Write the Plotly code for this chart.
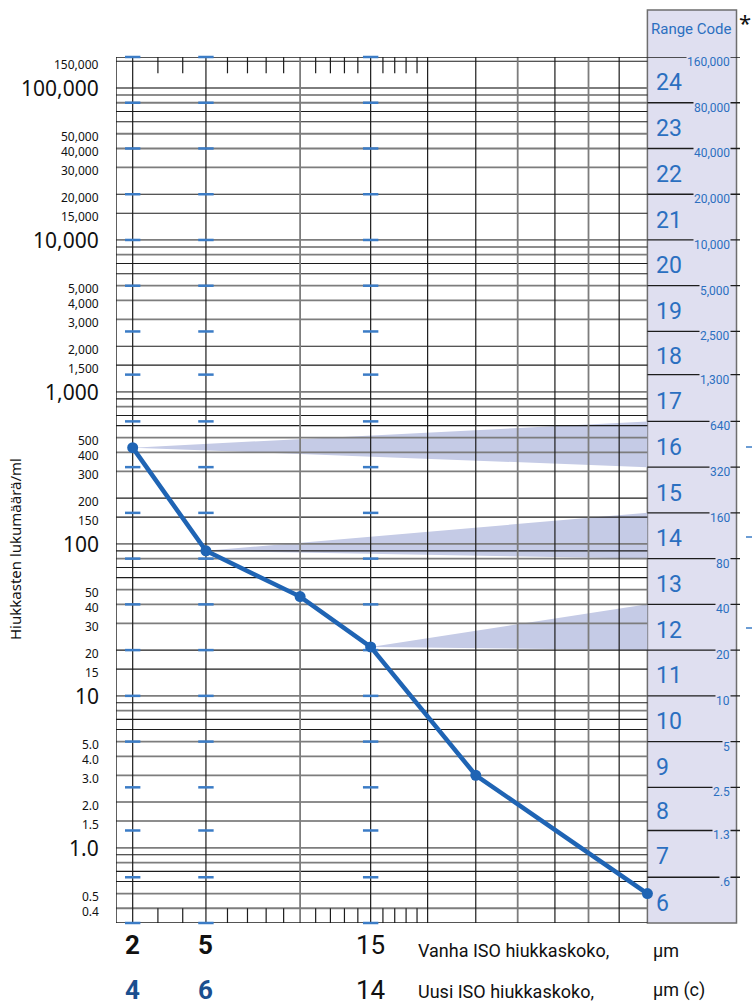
import math
import plotly.graph_objects as go

# Measured particle counts per ml at each particle size (µm)
sizes = [2, 5, 10, 15, 25, 50]
counts = [430, 90, 45, 21, 3.0, 0.5]

# Reporting sizes: old ISO (µm) and new ISO (µm(c))
old_iso_sizes = [2, 5, 15]
new_iso_sizes = [4, 6, 14]

# ISO 4406 range-code band limits (counts/ml) and their printed labels
range_bounds = [0.32, 0.64, 1.3, 2.5, 5, 10, 20, 40, 80, 160, 320, 640,
                1300, 2500, 5000, 10000, 20000, 40000, 80000, 160000]
range_bound_labels = ["", ".6", "1.3", "2.5", "5", "10", "20", "40", "80", "160",
                      "320", "640", "1,300", "2,500", "5,000", "10,000", "20,000",
                      "40,000", "80,000", "160,000"]
range_codes = [6, 7, 8, 9, 10, 11, 12, 13, 14, 15, 16, 17, 18, 19, 20, 21, 22, 23, 24]

# Shaded wedges: index of measured point -> band it falls in (low, high)
wedge_points = [0, 1, 3]
wedge_bands = [(320, 640), (80, 160), (20, 40)]

# Count-axis labels
count_ticks = [150000, 100000, 50000, 40000, 30000, 20000, 15000, 10000,
               5000, 4000, 3000, 2000, 1500, 1000, 500, 400, 300, 200, 150, 100,
               50, 40, 30, 20, 15, 10, 5, 4, 3, 2, 1.5, 1, 0.5, 0.4]
count_tick_text = ["150,000", "100,000", "50,000", "40,000", "30,000", "20,000", "15,000", "10,000",
                   "5,000", "4,000", "3,000", "2,000", "1,500", "1,000", "500", "400", "300", "200",
                   "150", "100", "50", "40", "30", "20", "15", "10", "5.0", "4.0", "3.0", "2.0",
                   "1.5", "1.0", "0.5", "0.4"]
major_counts = [100000, 10000, 1000, 100, 10, 1]

# Grid: per-decade multipliers and decades shown
grid_mults_gray = [1, 3, 4, 5, 8]
grid_mults_black = [1.5, 2, 6, 7, 9]
grid_decades = [0.1, 1, 10, 100, 1000, 10000, 100000]
grid_min, grid_max = 0.4, 150000

size_lines_black = [2, 5, 15, 20, 25, 35, 45]
size_lines_gray = [10, 30, 40]
size_minor_ticks = [3, 4, 6, 7, 8, 9, 11, 12, 13, 14, 16, 17, 18, 19]
size_max = 50

# Colours and fonts
BLUE = "#1f64b4"
TEXT_BLUE = "#2b6fc0"
DASH_BLUE = "#3b7cc6"
PANEL = "#dfdff0"
WEDGE = "#c5cbe6"
NARROW = "Roboto, Lato, Liberation Sans, sans-serif"
SANS = "Noto Sans, Open Sans, DejaVu Sans, sans-serif"

# Page geometry
W, H = 752, 1004
ML, MR, MT, MB = 116, 12, 57, 81
PLOT_W = W - ML - MR
PLOT_H = H - MT - MB
PX_PER_U = 184.1


def u(d):
    """Horizontal position for particle size d (log-squared scale)."""
    return math.log10(d) ** 2


def paper_y(px):
    return (H - MB - px) / PLOT_H


def paper_x(px):
    return (px - ML) / PLOT_W


U_MAX = PLOT_W / PX_PER_U
U_EDGE = u(size_max)
U_PANEL_RIGHT = (736.5 - ML) / PX_PER_U

fig = go.Figure()

# Wedges from a measured point out to its range-code band
for idx, (lo, hi) in zip(wedge_points, wedge_bands):
    fig.add_trace(go.Scatter(
        x=[u(sizes[idx]), U_EDGE, U_EDGE, u(sizes[idx])],
        y=[counts[idx], hi, lo, counts[idx]],
        mode="lines", fill="toself", fillcolor=WEDGE,
        line=dict(width=0), hoverinfo="skip", showlegend=False))


def hlines(values, x0, x1):
    xs, ys = [], []
    for v in values:
        xs += [x0, x1, None]
        ys += [v, v, None]
    return xs, ys


def vlines(sz, y0, y1):
    xs, ys = [], []
    for s in sz:
        xs += [u(s), u(s), None]
        ys += [y0, y1, None]
    return xs, ys


def grid_values(mults):
    out = []
    for d in grid_decades:
        for m in mults:
            v = round(m * d, 6)
            if grid_min <= v <= grid_max:
                out.append(v)
    return out


# Horizontal count grid
for mults, col, w in [(grid_mults_gray, "#7d7d7d", 1.8), (grid_mults_black, "#1c1c1c", 1.1)]:
    xs, ys = hlines(grid_values(mults), 0, U_EDGE)
    fig.add_trace(go.Scatter(x=xs, y=ys, mode="lines", line=dict(color=col, width=w),
                             hoverinfo="skip", showlegend=False))

# Vertical size lines
for sz, col, w in [(size_lines_gray, "#7d7d7d", 1.8), (size_lines_black, "#1c1c1c", 1.2)]:
    xs, ys = vlines(sz, range_bounds[0], range_bounds[-1])
    fig.add_trace(go.Scatter(x=xs, y=ys, mode="lines", line=dict(color=col, width=w),
                             hoverinfo="skip", showlegend=False))

# Short size ticks along top and bottom edges
xs_t, ys_t = vlines(size_minor_ticks, 125000, range_bounds[-1])
xs_b, ys_b = vlines(size_minor_ticks, range_bounds[0], grid_min)
fig.add_trace(go.Scatter(x=xs_t + xs_b, y=ys_t + ys_b, mode="lines",
                         line=dict(color="#1c1c1c", width=1.2),
                         hoverinfo="skip", showlegend=False))

# Frame of the main grid (left edge, top and bottom)
fig.add_trace(go.Scatter(
    x=[0, 0, None, 0, U_EDGE, None, 0, U_EDGE],
    y=[range_bounds[0], range_bounds[-1], None, range_bounds[-1], range_bounds[-1], None,
       range_bounds[0], range_bounds[0]],
    mode="lines", line=dict(color="#1c1c1c", width=1.4), hoverinfo="skip", showlegend=False))

# Range-code band limits across the side panel
xs, ys = hlines(range_bounds[1:], U_EDGE, U_MAX)
fig.add_trace(go.Scatter(x=xs, y=ys, mode="lines", line=dict(color="#1c1c1c", width=1.3),
                         hoverinfo="skip", showlegend=False))

# Blue band-limit marks on the ISO reporting sizes
bx, by = [], []
for s in old_iso_sizes:
    for b in range_bounds:
        bx.append(u(s))
        by.append(b)
fig.add_trace(go.Scatter(x=bx, y=by, mode="markers", cliponaxis=False,
                         marker=dict(symbol="line-ew", size=11,
                                     line=dict(color=DASH_BLUE, width=2.5)),
                         hoverinfo="skip", showlegend=False))

# Measured distribution
fig.add_trace(go.Scatter(x=[u(s) for s in sizes], y=counts, mode="lines+markers",
                         cliponaxis=False,
                         line=dict(color=BLUE, width=4.5),
                         marker=dict(color=BLUE, size=11),
                         showlegend=False))

shapes = [
    # Range-code side panel
    dict(type="rect", xref="x", yref="paper", x0=U_EDGE, x1=U_PANEL_RIGHT,
         y0=0, y1=paper_y(10), fillcolor=PANEL, line=dict(color="#6e6e6e", width=1.5),
         layer="below"),
]
# Small blue marks right of the panel
for py in [447, 537, 628]:
    shapes.append(dict(type="line", xref="paper", yref="paper",
                       x0=paper_x(746), x1=paper_x(753), y0=paper_y(py), y1=paper_y(py),
                       line=dict(color=DASH_BLUE, width=1.5)))

annotations = []

# Count-axis labels
for v, t in zip(count_ticks, count_tick_text):
    big = v in major_counts
    annotations.append(dict(
        x=0, xref="paper", xshift=-15, xanchor="right",
        y=math.log10(v), yref="y", yshift=0 if big else -3, yanchor="middle",
        text=t, showarrow=False,
        font=dict(family=SANS, size=21 if big else 12, color="#111")))

annotations.append(dict(
    x=0, xref="paper", xshift=-101, xanchor="center",
    y=paper_y(549), yref="paper", yanchor="middle",
    text="Hiukkasten lukumäärä/ml", textangle=-90, showarrow=False,
    font=dict(family=SANS, size=15, color="#111")))

# Range codes in each band
for code, lo, hi in zip(range_codes, range_bounds[:-1], range_bounds[1:]):
    annotations.append(dict(
        x=U_EDGE, xref="x", xshift=7, xanchor="left",
        y=(math.log10(lo) + math.log10(hi)) / 2, yref="y", yshift=-3, yanchor="middle",
        text=str(code), showarrow=False,
        font=dict(family=NARROW, size=23, color=TEXT_BLUE)))

# Band-limit values, masking the limit line behind them
for b, lab in zip(range_bounds, range_bound_labels):
    if not lab:
        continue
    annotations.append(dict(
        x=paper_x(731), xref="paper", xanchor="right",
        y=math.log10(b), yref="y", yshift=-5, yanchor="middle",
        text=lab, showarrow=False, bgcolor=PANEL, borderpad=0,
        font=dict(family=NARROW, size=12, color=TEXT_BLUE)))

annotations.append(dict(x=paper_x(691), xref="paper", xanchor="center",
                        y=paper_y(29), yref="paper", yanchor="middle",
                        text="Range Code", showarrow=False,
                        font=dict(family=NARROW, size=15, color=TEXT_BLUE)))
annotations.append(dict(x=paper_x(745), xref="paper", xanchor="center",
                        y=paper_y(22), yref="paper", yanchor="middle",
                        text="*", showarrow=False,
                        font=dict(family=SANS, size=22, color="#111")))

# Size labels below the grid
for s_old, s_new in zip(old_iso_sizes, new_iso_sizes):
    bold = s_old < 10
    annotations.append(dict(
        x=u(s_old), xref="x", xanchor="center", y=paper_y(945), yref="paper", yanchor="middle",
        showarrow=False, text=f"<b>{s_old}</b>" if bold else str(s_old),
        font=dict(family=NARROW, size=26, color="#111")))
    annotations.append(dict(
        x=u(s_old), xref="x", xanchor="center", y=paper_y(990), yref="paper", yanchor="middle",
        showarrow=False, text=f"<b>{s_new}</b>" if bold else str(s_new),
        font=dict(family=NARROW, size=26, color="#1b4f8f" if bold else "#111")))

bottom_texts = [
    (416, 950, "Vanha ISO hiukkaskoko,"),
    (651, 950, "µm"),
    (416, 992, "Uusi ISO hiukkaskoko,"),
    (651, 990, "µm (c)"),
]
for px, py, t in bottom_texts:
    annotations.append(dict(x=paper_x(px), xref="paper", xanchor="left",
                            y=paper_y(py), yref="paper", yanchor="middle",
                            text=t, showarrow=False,
                            font=dict(family=NARROW, size=18, color="#111")))

fig.update_layout(
    width=W, height=H,
    margin=dict(l=ML, r=MR, t=MT, b=MB),
    paper_bgcolor="white", plot_bgcolor="white",
    xaxis=dict(range=[0, U_MAX], showgrid=False, zeroline=False, showticklabels=False,
               showline=False, ticks=""),
    yaxis=dict(type="log", range=[math.log10(range_bounds[0]), math.log10(range_bounds[-1])],
               showgrid=False, zeroline=False, showticklabels=False, showline=False, ticks=""),
    shapes=shapes,
    annotations=annotations,
    showlegend=False,
)

fig.write_html("out.html")
